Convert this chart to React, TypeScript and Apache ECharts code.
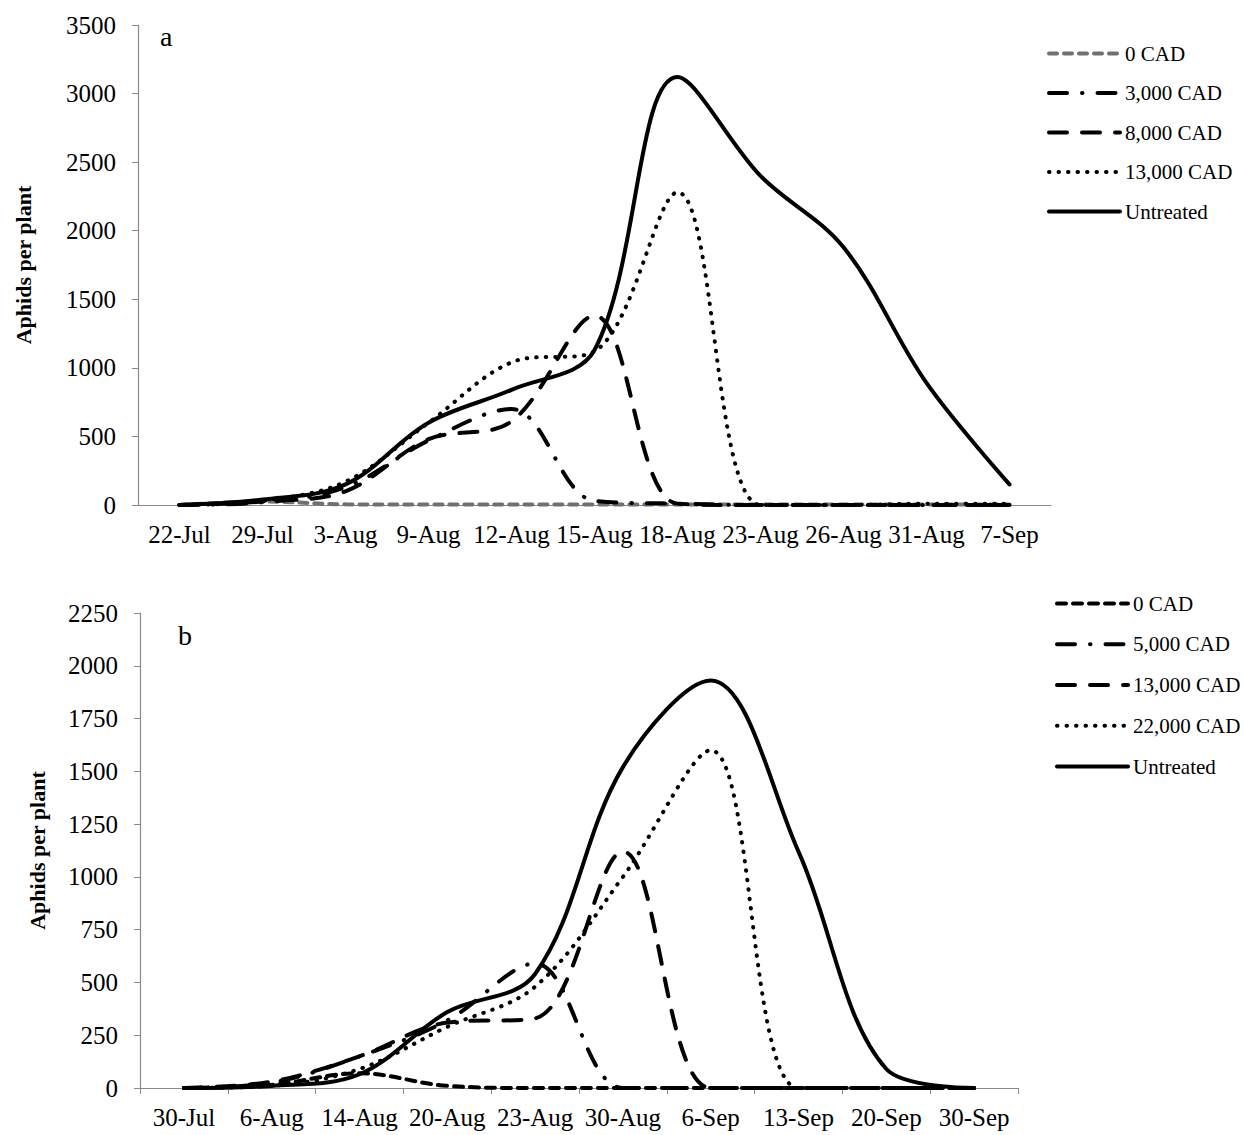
import React, { useEffect, useRef } from "react";
import * as echarts from "echarts";

// Panel a: sampling dates and aphid counts per treatment
const datesA = ["22-Jul", "29-Jul", "3-Aug", "9-Aug", "12-Aug", "15-Aug", "18-Aug", "23-Aug", "26-Aug", "31-Aug", "7-Sep"];
const cad0A = [0, 25, 5, 3, 3, 3, 3, 3, 3, 3, 3];
const cad3000A = [0, 20, 130, 470, 700, 30, 10, 0, 0, 0, 0];
const cad8000A = [0, 25, 100, 480, 610, 1380, 10, 0, 0, 0, 0];
const cad13000A = [0, 30, 170, 600, 1040, 1120, 2280, 0, 0, 10, 10];
const untreatedA = [0, 40, 150, 600, 840, 1130, 3120, 2400, 1880, 890, 150];

// Panel b
const datesB = ["30-Jul", "6-Aug", "14-Aug", "20-Aug", "23-Aug", "30-Aug", "6-Sep", "13-Sep", "20-Sep", "30-Sep"];
const cad0B = [0, 15, 70, 10, 0, 0, 0, 0, 0, 0];
const cad5000B = [0, 25, 150, 320, 590, 0, 0, 0, 0, 0];
const cad13000B = [0, 30, 150, 310, 330, 1120, 0, 0, 0, 0];
const cad22000B = [0, 10, 90, 290, 480, 1000, 1600, 0, 0, 0];
const untreatedB = [0, 10, 65, 360, 540, 1520, 1930, 1120, 90, 0];

const FONT = '"Liberation Serif", "Times New Roman", serif';
const AXIS_GRAY = "#8a8a8a";

const lineSolid = { color: "#000", width: 4, type: "solid" as any, cap: "round" as const };
const lineDashed = { color: "#000", width: 4, type: [18, 15], cap: "round" as const };
const lineDashDot = { color: "#000", width: 4, type: [18, 15, 0.5, 15], cap: "round" as const };
const lineDotted = { color: "#000", width: 4, type: [0.5, 9], cap: "round" as const };
const lineShortDash = { color: "#000", width: 4, type: [9, 7], cap: "round" as const };
const lineShortDashGray = { color: "#707070", width: 4, type: [8, 7], cap: "round" as const };

function lineSeries(name: string, data: number[], lineStyle: any) {
  return {
    name,
    type: "line",
    data,
    smooth: 0.35,
    symbol: "none",
    showSymbol: false,
    lineStyle,
    itemStyle: { color: lineStyle.color },
    emphasis: { disabled: true },
  };
}

function panelOption(cfg: {
  dates: string[];
  max: number;
  step: number;
  grid: { left: number; top: number; width: number; height: number };
  nameGap: number;
  showXTicks: boolean;
  legendLeft: number;
  legendTop: number;
  legendGap: number;
  tag: string;
  tagX: number;
  tagY: number;
  series: any[];
}) {
  return {
    animation: false,
    backgroundColor: "#fff",
    textStyle: { fontFamily: FONT },
    grid: { ...cfg.grid, containLabel: false },
    legend: {
      orient: "vertical",
      left: cfg.legendLeft,
      top: cfg.legendTop,
      padding: 0,
      itemWidth: 71,
      itemHeight: 14,
      itemGap: cfg.legendGap,
      textStyle: { fontFamily: FONT, fontSize: 21, color: "#000" },
      data: cfg.series.map((s) => ({
        name: s.name,
        lineStyle: { ...s.lineStyle },
        itemStyle: { opacity: 0 },
      })),
      selectedMode: false,
    },
    xAxis: {
      type: "category",
      data: cfg.dates,
      boundaryGap: true,
      axisLine: { lineStyle: { color: AXIS_GRAY, width: 1.2 } },
      axisTick: { show: cfg.showXTicks, length: 6, lineStyle: { color: AXIS_GRAY } },
      axisLabel: { interval: 0, margin: 17, fontFamily: FONT, fontSize: 25, color: "#000" },
      splitLine: { show: false },
    },
    yAxis: {
      type: "value",
      min: 0,
      max: cfg.max,
      interval: cfg.step,
      name: "Aphids per plant",
      nameLocation: "middle",
      nameGap: cfg.nameGap,
      nameTextStyle: { fontFamily: FONT, fontWeight: "bold", fontSize: 22, color: "#000" },
      axisLine: { show: true, lineStyle: { color: AXIS_GRAY, width: 1.2 } },
      axisTick: { show: true, length: 6, lineStyle: { color: AXIS_GRAY } },
      axisLabel: {
        margin: 22,
        fontFamily: FONT,
        fontSize: 25,
        color: "#000",
        formatter: (v: number) => String(v),
      },
      splitLine: { show: false },
    },
    graphic: [
      {
        type: "text",
        left: cfg.tagX,
        top: cfg.tagY,
        style: { text: cfg.tag, font: `28px ${FONT}`, fill: "#000" },
      },
    ],
    series: cfg.series,
  };
}

function Panel({ option, height }: { option: any; height: number }) {
  const ref = useRef<HTMLDivElement | null>(null);
  useEffect(() => {
    if (!ref.current) return;
    const chart = echarts.init(ref.current, undefined, { renderer: "svg" });
    chart.setOption(option);
    return () => chart.dispose();
  }, [option]);
  return <div ref={ref} style={{ width: 1244, height }} />;
}

const optionA = panelOption({
  dates: datesA,
  max: 3500,
  step: 500,
  grid: { left: 138, top: 25, width: 913, height: 480 },
  nameGap: 104,
  showXTicks: false,
  legendLeft: 1047,
  legendTop: 43,
  legendGap: 18.5,
  tag: "a",
  tagX: 160,
  tagY: 22,
  series: [
    lineSeries("0 CAD", cad0A, lineShortDashGray),
    lineSeries("3,000 CAD", cad3000A, lineDashDot),
    lineSeries("8,000 CAD", cad8000A, lineDashed),
    lineSeries("13,000 CAD", cad13000A, lineDotted),
    lineSeries("Untreated", untreatedA, lineSolid),
  ],
});

const optionB = panelOption({
  dates: datesB,
  max: 2250,
  step: 250,
  grid: { left: 140, top: 46, width: 878, height: 475 },
  nameGap: 92,
  showXTicks: true,
  legendLeft: 1055,
  legendTop: 26,
  legendGap: 19.75,
  tag: "b",
  tagX: 178,
  tagY: 54,
  series: [
    lineSeries("0 CAD", cad0B, lineShortDash),
    lineSeries("5,000 CAD", cad5000B, lineDashDot),
    lineSeries("13,000 CAD", cad13000B, lineDashed),
    lineSeries("22,000 CAD", cad22000B, lineDotted),
    lineSeries("Untreated", untreatedB, lineSolid),
  ],
});

export default function App() {
  useEffect(() => {
    document.body.style.margin = "0";
  }, []);
  return (
    <div style={{ width: 1244, height: 1135, background: "#fff" }}>
      <Panel option={optionA} height={567} />
      <Panel option={optionB} height={568} />
    </div>
  );
}
